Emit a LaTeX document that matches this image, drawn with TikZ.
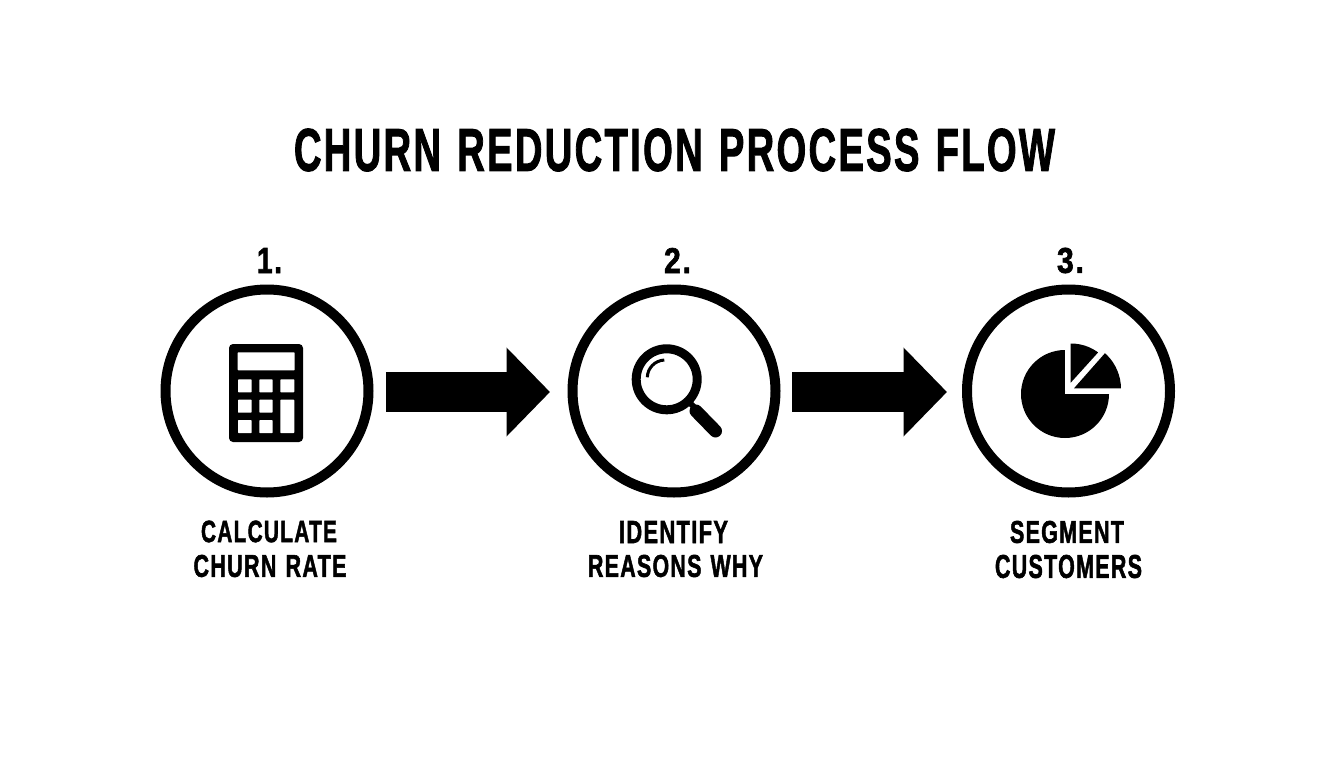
\documentclass[tikz,border=0pt]{standalone}
\usepackage{fontspec}
\usepackage{graphicx}
\usetikzlibrary{arrows.meta}
\newfontfamily\headfont[UprightFont=* Bold,LetterSpace=6,WordSpace=1.25,FakeBold=2]{Liberation Sans}
\newcommand{\fitline}[3]{\resizebox{#1pt}{#2pt}{\headfont #3}}
\tikzset{
  stepring/.style={circle,draw=black,line width=10pt,minimum size=203pt,inner sep=0pt,fill=white},
  txt/.style={inner sep=0pt,outer sep=0pt,text=black},
  blockarrow/.style={draw=black,line width=40.6pt,-{Triangle[length=43.5pt,width=86.4pt]},transform canvas={yshift=-1pt}},
  key/.style={fill=white,rounded corners=0.7pt},
}
\begin{document}
\begin{tikzpicture}[x=1pt,y=-1pt]
\useasboundingbox (0,0) rectangle (1344,768);
\fill[white] (0,0) rectangle (1344,768);
% title
\node[txt] (title) at (674.5,150) {\fitline{761}{42}{CHURN REDUCTION PROCESS FLOW}};
% numbers
\node[txt] (n1) at (269.5,260.5) {\fitline{25}{25}{1.}};
\node[txt] (n2) at (677.5,260.5) {\fitline{27}{25}{2.}};
\node[txt] (n3) at (1070.5,260.5) {\fitline{27}{25}{3.}};
% rings
\node[stepring] (c1) at (267,391) {};
\node[stepring] (c2) at (674,391) {};
\node[stepring] (c3) at (1068.5,391) {};
% arrows
\draw[blockarrow,shorten <=12.3pt,shorten >=17.5pt] (c1.east) -- (c2.west);
\draw[blockarrow,shorten <=11.7pt,shorten >=15pt] (c2.east) -- (c3.west);
% labels
\node[txt] (l1a) at (269,531.5) {\fitline{136}{21.5}{CALCULATE}};
\node[txt] (l1b) at (270,566) {\fitline{153}{22}{CHURN RATE}};
\node[txt] (l2a) at (673.5,532) {\fitline{109}{22}{IDENTIFY}};
\node[txt] (l2b) at (675.5,566) {\fitline{175}{22}{REASONS WHY}};
\node[txt] (l3a) at (1067,532) {\fitline{114}{22}{SEGMENT}};
\node[txt] (l3b) at (1068.5,566.5) {\fitline{147}{23}{CUSTOMERS}};
% calculator
\fill[black,rounded corners=4pt] (229,344) rectangle (303,442);
\fill[key] (237.7,352.3) rectangle (294.7,370.3);
\fill[key] (238,379.3) rectangle (251.7,392.3);
\fill[key] (259.3,379.3) rectangle (272.7,392.3);
\fill[key] (280.3,379.3) rectangle (294.3,392.3);
\fill[key] (238,399.7) rectangle (251.7,412.7);
\fill[key] (259.3,399.7) rectangle (272.7,412.7);
\fill[key] (238,420) rectangle (251.7,433);
\fill[key] (259.3,420) rectangle (272.7,433);
\fill[key] (280.3,399.7) rectangle (294.3,433);
% magnifier
\draw[black,line width=9pt] (666.7,379.3) circle[radius=30.5pt];
\draw[black,line width=6pt] (688,401) -- (697,410);
\draw[black,line width=13pt,line cap=round] (696,411) -- (715.5,431);
\draw[black,line width=3pt] (647.3,377.3) .. controls (647.5,368) and (655,360.5) .. (664.3,360);
% pie chart
\fill[black] (1065,394) circle[radius=44pt];
\fill[white] (1065,349) rectangle (1110,394);
\begin{scope}
  \clip (1071,389) circle[radius=45.5pt];
  \fill[black] (1070.7,382.7) -- (1070.7,335) -- (1110.6,335) -- (1110.6,338.6) -- cycle;
\end{scope}
\begin{scope}
  \clip (1073,389) circle[radius=48pt];
  \fill[black] (1074,388.3) -- (1125,388.3) -- (1125,335) -- (1121,335) -- cycle;
\end{scope}
\end{tikzpicture}
\end{document}
